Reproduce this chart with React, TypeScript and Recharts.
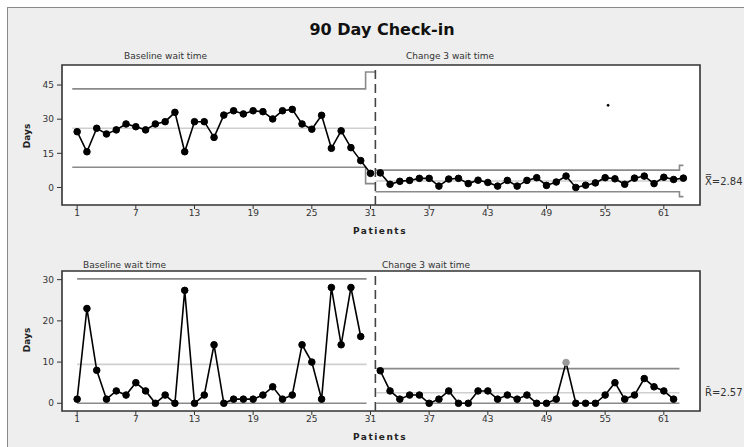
import React from 'react';
import {
  LineChart,
  Line,
  XAxis,
  YAxis,
  CartesianGrid,
  ReferenceLine,
  ReferenceArea,
  ReferenceDot,
} from 'recharts';

// ---- Data ----
const baselineStart = 1;
const change3Start = 32;

// Individuals (top chart), patients 1..31
const baselineIndividuals = [
  24.5, 15.7, 26.0, 23.5, 25.3, 27.9, 26.7, 25.3, 27.9, 28.9, 33.0, 15.7, 28.9,
  28.9, 22.0, 31.8, 33.7, 32.3, 33.7, 33.3, 30.1, 33.7, 34.3, 27.9, 25.6, 31.7,
  17.2, 24.9, 17.5, 11.8, 6.2,
];
// Individuals (top chart), patients 32..63
const change3Individuals = [
  6.4, 1.4, 2.7, 3.1, 4.0, 4.0, 0.6, 3.7, 4.0, 1.7, 3.2, 2.2, 0.6, 3.1, 0.6,
  3.1, 4.3, 0.9, 2.4, 5.0, 0.0, 1.0, 2.0, 4.3, 3.8, 1.4, 4.1, 5.0, 1.7, 4.5,
  3.5, 4.1,
];

// Moving ranges (bottom chart), patients 1..30
const baselineRanges = [
  1, 23, 8, 1, 3, 2, 5, 3, 0, 2, 0, 27.4, 0, 2, 14.2, 0, 1, 1, 1, 2, 4, 1, 2,
  14.2, 10, 1, 28.1, 14.2, 28.1, 16.2,
];
// Moving ranges (bottom chart), patients 32..62
const change3Ranges = [
  7.9, 3, 1, 2, 2, 0, 1, 3, 0, 0, 3, 3, 1, 2, 1, 2, 0, 0, 1, 9.9, 0, 0, 0, 2, 5,
  1, 2, 6, 4, 3, 1,
];
const outOfControlRanges = [51];
const strayMark = { x: 55.3, y: 36.1 };

// Control limits
const xbarBaseline = { ucl: 43.3, cl: 26.0, lcl: 8.9, uclLast: 50.7, lclLast: 1.7 };
const xbarChange3 = { ucl: 7.6, cl: 2.84, lcl: -1.9, uclLast: 9.7, lclLast: -4.0 };
const mrBaseline = { ucl: 30.2, cl: 9.45, lcl: 0 };
const mrChange3 = { ucl: 8.4, cl: 2.57, lcl: 0 };

const xTicks = [1, 7, 13, 19, 25, 31, 37, 43, 49, 55, 61];
const topYTicks = [0, 15, 30, 45];
const bottomYTicks = [0, 10, 20, 30];
const xDomain: [number, number] = [-0.55, 64.7];
const topYDomain: [number, number] = [-7.7, 53.8];
const bottomYDomain: [number, number] = [-1.87, 32.1];
const stageBoundary = 31.5;

// ---- Helpers ----
const toPoints = (vals: number[], start: number) =>
  vals.map((v, i) => ({ x: start + i, y: v }));

const flat = (from: number, to: number, v: number) => [
  { x: from, y: v },
  { x: to, y: v },
];
const stepped = (from: number, stepAt: number, to: number, v: number, last: number) => [
  { x: from, y: v },
  { x: stepAt, y: v },
  { x: stepAt, y: last },
  { x: to, y: last },
];

const FONT = '"DejaVu Sans", Verdana, sans-serif';
const LIMIT = '#8a8a8a';
const CENTER = '#cfcfcf';
const tickStyle = { fontSize: 9, fill: '#333', fontFamily: FONT };

const dotStyle = { r: 3.3, fill: '#000', stroke: '#000', strokeWidth: 1 };

function Panel(props: {
  top: number;
  height: number;
  margin: { top: number; right: number; bottom: number; left: number };
  yDomain: [number, number];
  yTicks: number[];
  series: { data: { x: number; y: number }[]; highlight?: number[] }[];
  limits: { data: { x: number; y: number }[]; color: string }[];
  extraDot?: { x: number; y: number };
}) {
  return (
    <div style={{ position: 'absolute', left: 0, top: props.top }}>
      <LineChart width={744} height={props.height} margin={props.margin}>
        <CartesianGrid fill="#ffffff" horizontal={false} vertical={false} />
        <XAxis
          type="number"
          dataKey="x"
          domain={xDomain}
          ticks={xTicks}
          allowDataOverflow
          axisLine={false}
          tickLine={{ stroke: '#333' }}
          tickSize={4}
          tickMargin={1}
          height={20}
          tick={tickStyle}
          interval={0}
        />
        <YAxis
          type="number"
          domain={props.yDomain}
          ticks={props.yTicks}
          allowDataOverflow
          axisLine={false}
          tickLine={{ stroke: '#333' }}
          tickSize={5}
          tickMargin={3}
          width={30}
          tick={tickStyle}
          interval={0}
        />
        {props.limits.map((l, i) => (
          <Line
            key={'lim' + i}
            data={l.data}
            dataKey="y"
            type="linear"
            stroke={l.color}
            strokeWidth={1.6}
            dot={false}
            activeDot={false}
            isAnimationActive={false}
          />
        ))}
        <ReferenceLine
          x={stageBoundary}
          stroke="#444"
          strokeWidth={1.6}
          strokeDasharray="9 5"
        />
        {props.series.map((s, i) => (
          <Line
            key={'ser' + i}
            data={s.data}
            dataKey="y"
            type="linear"
            stroke="#000"
            strokeWidth={1.6}
            isAnimationActive={false}
            activeDot={false}
            dot={(p: any) => (
              <circle
                key={'d' + i + '-' + p.index}
                cx={p.cx}
                cy={p.cy}
                r={3.3}
                fill={s.highlight && s.highlight.includes(p.payload.x) ? '#9a9a9a' : '#000'}
                stroke={s.highlight && s.highlight.includes(p.payload.x) ? '#9a9a9a' : '#000'}
                strokeWidth={1}
              />
            )}
          />
        ))}
        {props.extraDot && (
          <ReferenceDot
            x={props.extraDot.x}
            y={props.extraDot.y}
            r={1}
            fill="#000"
            stroke="#000"
          />
        )}
        <ReferenceArea
          x1={xDomain[0]}
          x2={xDomain[1]}
          y1={props.yDomain[0]}
          y2={props.yDomain[1]}
          fill="none"
          fillOpacity={0}
          stroke="#333"
          strokeWidth={1.6}
        />
      </LineChart>
    </div>
  );
}

export default function App() {
  const topSeries = [
    { data: toPoints(baselineIndividuals, baselineStart) },
    { data: toPoints(change3Individuals, change3Start) },
  ];
  const topLimits = [
    { data: stepped(0.5, 30.5, 31.5, xbarBaseline.ucl, xbarBaseline.uclLast), color: LIMIT },
    { data: flat(0.5, 31.5, xbarBaseline.cl), color: CENTER },
    { data: stepped(0.5, 30.5, 31.5, xbarBaseline.lcl, xbarBaseline.lclLast), color: LIMIT },
    { data: stepped(31.5, 62.6, 63.0, xbarChange3.ucl, xbarChange3.uclLast), color: LIMIT },
    { data: flat(31.5, 63.0, xbarChange3.cl), color: CENTER },
    { data: stepped(31.5, 62.6, 63.0, xbarChange3.lcl, xbarChange3.lclLast), color: LIMIT },
  ];
  const bottomSeries = [
    { data: toPoints(baselineRanges, baselineStart) },
    { data: toPoints(change3Ranges, change3Start), highlight: outOfControlRanges },
  ];
  const bottomLimits = [
    { data: flat(1, 30.6, mrBaseline.ucl), color: LIMIT },
    { data: flat(1, 30.6, mrBaseline.cl), color: CENTER },
    { data: flat(1, 30.6, mrBaseline.lcl), color: LIMIT },
    { data: flat(31.6, 62.6, mrChange3.ucl), color: LIMIT },
    { data: flat(31.6, 62.6, mrChange3.cl), color: CENTER },
    { data: flat(31.6, 62.6, mrChange3.lcl), color: LIMIT },
  ];

  const small = { fontFamily: FONT, fontSize: 9, fill: '#333' } as const;
  const bold = { fontFamily: FONT, fontSize: 9, fill: '#222', fontWeight: 700 } as const;

  return (
    <div
      style={{
        position: 'absolute',
        left: 0,
        top: 0,
        width: 744,
        height: 447,
        overflow: 'hidden',
        background: '#ffffff',
      }}
    >
      <div
        style={{
          position: 'absolute',
          left: 7,
          top: 7,
          width: 800,
          height: 500,
          background: '#eeeeee',
          border: '1.5px solid #8a8a8a',
        }}
      />
      <Panel
        top={0}
        height={230}
        margin={{ top: 65, right: 44, bottom: 5, left: 32 }}
        yDomain={topYDomain}
        yTicks={topYTicks}
        series={topSeries}
        limits={topLimits}
        extraDot={strayMark}
      />
      <Panel
        top={230}
        height={217}
        margin={{ top: 41, right: 44, bottom: 16, left: 32 }}
        yDomain={bottomYDomain}
        yTicks={bottomYTicks}
        series={bottomSeries}
        limits={bottomLimits}
      />
      <svg
        width={744}
        height={447}
        style={{ position: 'absolute', left: 0, top: 0, pointerEvents: 'none' }}
      >
        <text x={382} y={35} textAnchor="middle" fontFamily={FONT} fontSize={16} fontWeight={700} fill="#111">
          90 Day Check-in
        </text>
        <text x={124} y={59} {...small}>Baseline wait time</text>
        <text x={406} y={59} {...small}>Change 3 wait time</text>
        <text x={83} y={268} {...small}>Baseline wait time</text>
        <text x={382} y={268} {...small}>Change 3 wait time</text>
        <text x={30} y={136} textAnchor="middle" transform="rotate(-90 30 136)" {...bold}>Days</text>
        <text x={30} y={340} textAnchor="middle" transform="rotate(-90 30 340)" {...bold}>Days</text>
        <text x={380} y={234} textAnchor="middle" letterSpacing={1.5} {...bold}>Patients</text>
        <text x={380} y={440} textAnchor="middle" letterSpacing={1.5} {...bold}>Patients</text>
        <text x={705} y={185} fontFamily={FONT} fontSize={10} fill="#333">X̿=2.84</text>
        <text x={705} y={396} fontFamily={FONT} fontSize={10} fill="#333">R̄=2.57</text>
      </svg>
    </div>
  );
}
